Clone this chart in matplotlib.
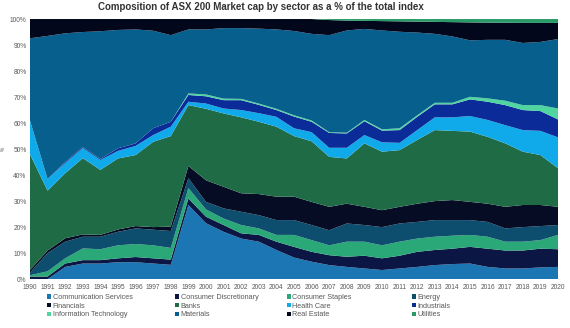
import numpy as np
import matplotlib
matplotlib.use("Agg")
import matplotlib.pyplot as plt
from matplotlib.patches import Patch
from matplotlib.ticker import PercentFormatter

plt.rcParams['font.family'] = ['Liberation Sans', 'DejaVu Sans']

years = list(range(1990, 2021))

# sector shares, % of total index
comm_services = [0, 0, 4.7, 6, 6, 6.5, 6.5, 6, 5.5, 28.5, 21.5, 18.2, 15.6, 14.4, 11.2, 8.3,
                 6.7, 5.4, 4.7, 4.1, 3.5, 4.1, 4.7, 5.4, 5.8, 6, 4.7, 4.1, 4.1, 4.5, 4.7]
cons_disc = [1, 1, 1.3, 1.3, 1.3, 1.5, 2, 2, 2, 2.5, 2.5, 2.6, 2, 2.6, 3.2, 4.1,
             3.8, 3.8, 3.9, 4.9, 4.5, 4.9, 5.8, 5.8, 5.9, 6.4, 7, 6.9, 6.9, 7.2, 6.8]
cons_staples = [0.5, 2, 2, 4.5, 4.2, 5, 5, 5, 4.5, 4, 2.8, 2.5, 3.2, 2.5, 2.6, 4.6,
                4.5, 3.8, 5.8, 5.4, 5, 5.4, 5.1, 5.1, 5, 4.6, 4.6, 3.4, 3.4, 3.3, 5.5]
energy = [1, 7, 6.4, 4.5, 4.8, 5.2, 6, 6, 6.5, 3.8, 2.9, 3.9, 5.1, 5.1, 5.7, 5.7,
          5.8, 5.8, 7, 6.4, 7, 7, 6.4, 6.4, 6, 5.7, 5.7, 5.1, 5.6, 5.4, 3.8]
financials = [1, 1, 1.3, 0.9, 0.7, 0.9, 0.9, 1, 1.7, 4.7, 8.3, 8.3, 7.1, 8.1, 9, 9,
              8.9, 9, 7.6, 7, 6.5, 6.4, 7, 7.3, 7.7, 7, 7, 8.3, 8.5, 8.1, 7]
banks = [44.5, 23, 25, 29.3, 25, 27.3, 27.3, 32.8, 34.8, 23.4, 27.5, 28.2, 29.2, 27.8, 26.9, 23.3,
         23.3, 19.2, 17.4, 24.4, 22.5, 21.8, 24.5, 27.3, 26.6, 27, 25.7, 24.4, 20.5, 19.2, 14.8]
health_care = [13, 4.5, 3.9, 3.9, 3.8, 2.9, 3.5, 2.6, 3.6, 1.3, 2, 1.9, 2.8, 3.3, 3.8, 3,
               3.5, 3.5, 4.1, 3.2, 3.6, 2.8, 3.8, 4.9, 5.2, 6, 6.5, 7, 8.3, 9.3, 11.9]
industrials = [0, 0, 0.4, 0.4, 0.4, 1, 1, 2.6, 1.9, 2.6, 2.8, 3.2, 3.8, 3.2, 2.6, 4.5,
               4, 5.7, 5.5, 5.3, 4.5, 4.9, 5.1, 5, 5, 6.4, 7, 7.7, 7.7, 7.6, 6.9]
info_tech = [0, 0, 0, 0, 0, 0, 0, 0, 0, 0.6, 0.7, 0.6, 0.5, 0.5, 0.5, 0.5,
             0.5, 0.3, 0.3, 0.5, 0.5, 0.7, 0.6, 0.6, 0.6, 1, 1.3, 1.7, 1.9, 2.3, 4.2]
materials = [31.6, 55, 49.5, 44.2, 49.1, 45.5, 43.8, 37.5, 33.3, 24.6, 25, 27.1, 27.2, 28.8, 30.5, 32.4,
             33.3, 37.3, 39.3, 35, 38, 37.1, 31.8, 26.5, 25.5, 21.7, 22.5, 23.4, 23.9, 24.3, 26.7]
real_estate = [7.4, 6.5, 5.5, 5, 4.7, 4.2, 4, 4.5, 6.2, 4, 4, 3.5, 3.5, 3.7, 4, 4.6,
               5.7, 5.8, 3.8, 3.1, 3.6, 4, 4.2, 4.6, 5.5, 6.9, 6.6, 6.6, 7.7, 7.3, 6.2]
utilities = [0, 0, 0, 0, 0, 0, 0, 0, 0, 0, 0, 0, 0, 0, 0, 0,
             0, 0.4, 0.6, 0.7, 0.8, 0.9, 1, 1.1, 1.2, 1.3, 1.4, 1.4, 1.5, 1.5, 1.5]

sectors = ["Communication Services", "Consumer Discretionary", "Consumer Staples", "Energy",
           "Financials", "Banks", "Health Care", "Industrials",
           "Information Technology", "Materials", "Real Estate", "Utilities"]
values = [comm_services, cons_disc, cons_staples, energy, financials, banks,
          health_care, industrials, info_tech, materials, real_estate, utilities]
colors = ["#1b76b3", "#0b1645", "#2aa878", "#0d4d6e", "#050c24", "#1f6b46",
          "#10aaea", "#0b2b99", "#4fd6a0", "#065f8c", "#03071c", "#2a9a68"]

fig = plt.figure(figsize=(5.7, 3.28), dpi=100)
ax = fig.add_axes([0.0526, 0.149, 0.9264, 0.793])

ax.stackplot(years, *values, colors=colors, linewidth=0)

ax.set_xlim(1990, 2020)
ax.set_ylim(0, 100)
ax.set_xticks(years)
ax.set_yticks(range(0, 101, 10))
ax.yaxis.set_major_formatter(PercentFormatter(decimals=0))
ax.tick_params(axis='both', length=0, labelsize=4.8, colors="#595959")
ax.tick_params(axis='x', pad=3.5)
ax.tick_params(axis='y', pad=2.5)
for s in ax.spines.values():
    s.set_visible(False)
ax.set_ylabel("%", fontsize=3.5, color="#595959")
ax.yaxis.set_label_coords(-0.045, 0.5)

fig.suptitle("Composition of ASX 200 Market cap by sector as a % of the total index",
             fontsize=7, fontweight='bold', color="#333333", x=0.457, y=0.995)

# legend: four columns of three entries
col_x = [0.082, 0.307, 0.503, 0.722]
for c in range(4):
    idx = [c, c + 4, c + 8]
    handles = [Patch(facecolor=colors[i], edgecolor='none', label=sectors[i]) for i in idx]
    fig.legend(handles=handles, loc='upper left', bbox_to_anchor=(col_x[c], 0.104),
               frameon=False, fontsize=5.2, handlelength=0.55, handleheight=0.55,
               handletextpad=0.25, labelspacing=0.25, borderpad=0, borderaxespad=0,
               labelcolor="#595959")

fig.savefig("out.png", dpi=100)
